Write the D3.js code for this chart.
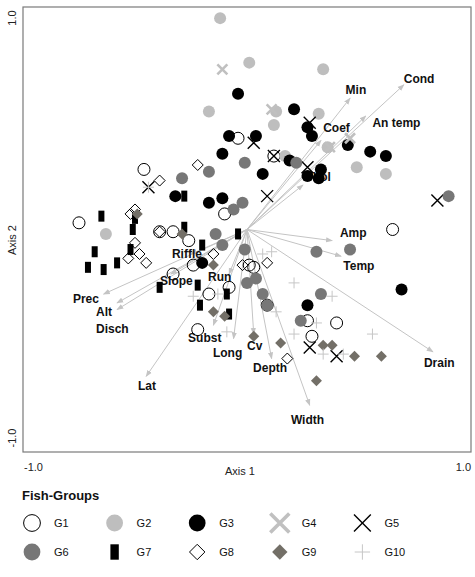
<!DOCTYPE html>
<html>
<head>
<meta charset="utf-8">
<script src="https://cdn.jsdelivr.net/npm/d3@7"></script>
<style>
  body { margin: 0; background: #fff; }
  text { font-family: "Liberation Sans", Arial, sans-serif; }
</style>
</head>
<body>
<div id="viz"></div>
<script>
const width = 475;
const height = 577;
const frame = {left: 23, right: 471, top: 7, bottom: 452};

// fish groups
const groups = ['G1', 'G2', 'G3', 'G4', 'G5', 'G6', 'G7', 'G8', 'G9', 'G10'];

// site scores (axis 1, axis 2) per group
const g1 = [[-0.75,0.03],[-0.46,0.27],[-0.04,0.41],[0.12,0.33],[-0.10,0.07],[-0.39,-0.01],[-0.33,-0.01],
  [-0.26,-0.05],[-0.24,-0.16],[-0.33,-0.20],[-0.17,-0.29],[-0.08,-0.26],[-0.22,-0.45],[0.01,-0.16],
  [0.03,-0.17],[0.09,-0.34],[0.27,-0.41],[0.40,-0.42],[0.29,-0.48],[0.65,0.00]];
const g2 = [[-0.12,0.95],[0.01,0.75],[0.34,0.72],[-0.17,0.53],[0.13,0.53],[0.32,0.52],[0.12,0.47],
  [0.17,0.33],[0.36,0.37],[0.49,0.28],[0.62,0.25],[-0.63,-0.02]];
const g3 = [[-0.04,0.61],[-0.08,0.42],[-0.11,0.34],[-0.32,0.15],[-0.17,0.12],[-0.11,0.14],[0.21,0.54],
  [0.27,0.46],[0.29,0.42],[0.04,0.42],[0.45,0.38],[0.55,0.35],[0.62,0.33],[0.19,0.31],[0.07,0.25],
  [0.27,0.24],[0.33,0.27],[0.32,0.23],[0.69,-0.27],[0.27,-0.34],[-0.20,-0.15]];
const g4 = [[-0.11,0.72],[0.11,0.54],[0.46,0.41],[0.37,0.37]];
const g5 = [[-0.44,0.19],[0.28,0.48],[0.03,0.39],[0.12,0.33],[0.27,0.28],[0.09,0.15],[0.85,0.13],
  [0.28,-0.53],[0.40,-0.57]];
const g6 = [[-0.29,0.23],[-0.17,0.26],[-0.06,0.09],[-0.02,0.12],[-0.01,0.30],[0.22,0.30],[0.90,0.15],
  [-0.14,-0.02],[-0.11,-0.07],[-0.01,-0.09],[0.31,-0.10],[0.46,-0.09],[0.00,-0.24],[0.04,-0.22],
  [0.07,-0.29],[0.09,-0.34],[0.33,-0.29],[0.24,-0.41]];
const g7 = [[-0.65,0.06],[-0.50,0.05],[-0.51,0.00],[-0.28,0.15],[-0.28,0.01],[-0.68,-0.10],[-0.71,-0.17],
  [-0.64,-0.18],[-0.58,-0.15],[-0.52,-0.09],[-0.20,-0.07],[-0.04,-0.02],[-0.39,-0.26],[-0.22,-0.25],
  [-0.21,-0.34],[-0.09,-0.29],[-0.08,-0.38]];
const g8 = [[-0.22,0.29],[-0.39,0.22],[-0.52,0.07],[-0.50,0.09],[-0.39,-0.01],[-0.50,-0.06],[-0.48,-0.11],
  [-0.53,-0.13],[-0.45,-0.15],[-0.15,-0.11],[0.09,-0.15],[-0.02,-0.16],[0.18,-0.58]];
const g9 = [[-0.49,0.07],[-0.29,-0.02],[-0.15,-0.16],[-0.15,-0.37],[-0.10,-0.39],[0.03,-0.48],[0.15,-0.51],
  [0.34,-0.52],[0.38,-0.52],[0.48,-0.57],[0.60,-0.57],[0.31,-0.68]];
const g10 = [[-0.44,0.19],[0.07,-0.11],[0.11,-0.10],[0.21,-0.24],[0.38,-0.30],[0.13,-0.37],[0.31,-0.42],
  [0.21,-0.47],[0.56,-0.47],[0.34,-0.56],[0.43,-0.56],[-0.24,-0.30],[-0.13,-0.29],[-0.09,-0.46]];
const scores = [g1, g2, g3, g4, g5, g6, g7, g8, g9, g10];

// environmental variables: arrow tips and label anchors
const variables = ['Cond', 'Min', 'An temp', 'Coef', 'Vol', 'Amp', 'Temp', 'Drain', 'Width', 'Depth',
  'Cv', 'Long', 'Subst', 'Lat', 'Prec', 'Alt', 'Disch', 'Riffle', 'Slope', 'Run'];
const loadings = [[0.70,0.65],[0.46,0.59],[0.53,0.51],[0.33,0.40],[0.25,0.20],[0.38,-0.05],[0.42,-0.12],
  [0.83,-0.55],[0.28,-0.79],[0.11,-0.58],[0.03,-0.47],[-0.06,-0.49],[-0.15,-0.43],[-0.45,-0.66],
  [-0.64,-0.29],[-0.58,-0.33],[-0.58,-0.36],[-0.25,-0.11],[-0.34,-0.20],[-0.08,-0.20]];
const labelAt = [[0.70,0.66],[0.44,0.61],[0.56,0.46],[0.34,0.44],[0.295,0.22],[0.415,-0.034],[0.43,-0.18],
  [0.79,-0.62],[0.196,-0.874],[0.027,-0.64],[0.0,-0.54],[-0.152,-0.573],[-0.263,-0.506],[-0.487,-0.721],
  [-0.777,-0.33],[-0.674,-0.389],[-0.674,-0.465],[-0.335,-0.128],[-0.388,-0.249],[-0.174,-0.231]];

const xScale = d3.scaleLinear().domain([-1, 1]).range([frame.left, frame.right]);
const yScale = d3.scaleLinear().domain([-1, 1]).range([frame.bottom, frame.top]);

const svg = d3.select('#viz')
  .append('svg')
    .attr('width', width)
    .attr('height', height);

svg.append('defs').append('marker')
    .attr('id', 'head')
    .attr('viewBox', '0 -4 8 8')
    .attr('refX', 7)
    .attr('refY', 0)
    .attr('markerWidth', 7)
    .attr('markerHeight', 7)
    .attr('markerUnits', 'userSpaceOnUse')
    .attr('orient', 'auto')
  .append('path')
    .attr('d', 'M0,-3L8,0L0,3Z')
    .attr('fill', '#c4c4c4');

// frame
svg.append('rect')
    .attr('x', frame.left)
    .attr('y', frame.top)
    .attr('width', frame.right - frame.left)
    .attr('height', frame.bottom - frame.top)
    .attr('fill', 'none')
    .attr('stroke', '#7a7a7a')
    .attr('stroke-width', 1.2);

// axis text
const axisText = svg.append('g').attr('fill', '#222').style('font-size', '11px');
axisText.append('text').attr('x', 24).attr('y', 471).text('-1.0');
axisText.append('text').attr('x', 471).attr('y', 471).attr('text-anchor', 'end').text('1.0');
axisText.append('text').attr('x', 240).attr('y', 475).attr('text-anchor', 'middle').text('Axis 1');
axisText.append('text').attr('transform', 'translate(16,18) rotate(-90)').attr('text-anchor', 'middle').text('1.0');
axisText.append('text').attr('transform', 'translate(16,240) rotate(-90)').attr('text-anchor', 'middle').text('Axis 2');
axisText.append('text').attr('transform', 'translate(16,438) rotate(-90)').attr('text-anchor', 'middle').text('-1.0');

// biplot arrows
svg.append('g')
  .selectAll('line')
  .data(loadings)
  .join('line')
    .attr('x1', xScale(0))
    .attr('y1', yScale(0))
    .attr('x2', d => xScale(d[0]))
    .attr('y2', d => yScale(d[1]))
    .attr('stroke', '#c4c4c4')
    .attr('stroke-width', 1)
    .attr('marker-end', 'url(#head)');

svg.append('g')
  .selectAll('text')
  .data(variables)
  .join('text')
    .attr('x', (d, i) => xScale(labelAt[i][0]))
    .attr('y', (d, i) => yScale(labelAt[i][1]))
    .style('font-size', '12px')
    .style('font-weight', 'bold')
    .attr('fill', '#111')
    .text(d => d);

// marker shapes, k = size factor
function drawSymbol(sel, gi, k) {
  const r = 6 * k;
  if (gi === 0 || gi === 1 || gi === 2 || gi === 5) {
    const fill = ['none', '#bebebe', '#000', null, null, '#777'][gi];
    sel.append('circle').attr('r', r)
      .attr('fill', fill)
      .attr('stroke', gi === 0 ? '#000' : 'none')
      .attr('stroke-width', 1);
  } else if (gi === 3) {
    const h = 5 * k;
    sel.append('path').attr('d', `M${-h},${-h}L${h},${h}M${-h},${h}L${h},${-h}`)
      .attr('stroke', '#c0c0c0').attr('stroke-width', 2.6 * Math.sqrt(k)).attr('fill', 'none');
  } else if (gi === 4) {
    const h = 6 * k;
    sel.append('path').attr('d', `M${-h},${-h}L${h},${h}M${-h},${h}L${h},${-h}`)
      .attr('stroke', '#000').attr('stroke-width', 1.4).attr('fill', 'none');
  } else if (gi === 6) {
    sel.append('rect').attr('x', -3 * k).attr('y', -5.5 * k)
      .attr('width', 6 * k).attr('height', 11 * k).attr('fill', '#000');
  } else if (gi === 7 || gi === 8) {
    const h = 5.5 * k;
    sel.append('path').attr('d', `M0,${-h}L${h},0L0,${h}L${-h},0Z`)
      .attr('fill', gi === 7 ? 'none' : '#736f67')
      .attr('stroke', gi === 7 ? '#000' : 'none')
      .attr('stroke-width', 1);
  } else {
    const h = 5.5 * k;
    sel.append('path').attr('d', `M${-h},0L${h},0M0,${-h}L0,${h}`)
      .attr('stroke', '#c6c6c6').attr('stroke-width', 1).attr('fill', 'none');
  }
}

// site points
scores.forEach((pts, gi) => {
  svg.append('g')
    .attr('class', 'group-' + groups[gi])
    .selectAll('g')
    .data(pts)
    .join('g')
      .attr('transform', d => `translate(${xScale(d[0])},${yScale(d[1])})`)
      .each(function() { drawSymbol(d3.select(this), gi, 1); });
});

// legend
const legend = svg.append('g');
legend.append('text')
    .attr('x', 22)
    .attr('y', 500)
    .style('font-size', '13px')
    .style('font-weight', 'bold')
    .attr('fill', '#111')
    .text('Fish-Groups');

groups.forEach((name, i) => {
  const col = i % 5;
  const row = Math.floor(i / 5);
  const item = legend.append('g')
      .attr('transform', `translate(${32 + col * 82.6},${523 + row * 29})`);
  drawSymbol(item, i, i === 3 ? 1.9 : 1.4);
  item.append('text')
      .attr('x', 22)
      .attr('y', 4)
      .style('font-size', '11px')
      .attr('fill', '#111')
      .text(name);
});
</script>
</body>
</html>
